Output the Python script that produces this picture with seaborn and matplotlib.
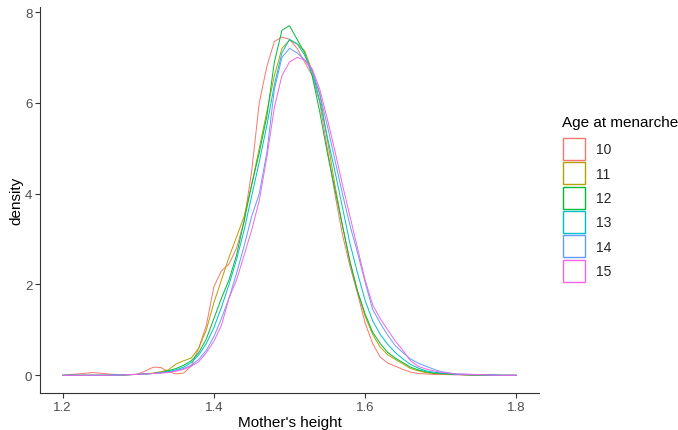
import numpy as np
import pandas as pd
import seaborn as sns
import matplotlib
matplotlib.use("Agg")
import matplotlib.pyplot as plt
from matplotlib.patches import Patch

# shared height grid (m)
heights = ([1.20, 1.22, 1.24, 1.26, 1.28, 1.30]
           + [round(1.31 + 0.01 * i, 2) for i in range(40)]
           + [1.72, 1.74, 1.76, 1.78, 1.80])

ages = ["10", "11", "12", "13", "14", "15"]

dens_10 = [0.0, 0.03, 0.06, 0.03, 0.0, 0.03,
           0.1, 0.18, 0.17, 0.08, 0.03, 0.05, 0.2, 0.6, 1.1, 1.95,
           2.3, 2.45, 2.8, 3.4, 4.5, 6.0, 6.8, 7.35, 7.45, 7.4,
           7.2, 6.9, 6.6, 6.0, 5.0, 4.0, 3.1, 2.4, 1.8, 1.15,
           0.7, 0.4, 0.27, 0.2, 0.13, 0.07, 0.04, 0.03, 0.02, 0.02,
           0.01, 0.0, 0.0, 0.0, 0.0]
dens_11 = [0.0, 0.0, 0.0, 0.0, 0.01, 0.02,
           0.03, 0.05, 0.08, 0.12, 0.25, 0.32, 0.38, 0.6, 1.0, 1.6,
           2.1, 2.6, 3.05, 3.5, 4.2, 5.0, 5.8, 6.6, 7.2, 7.38,
           7.3, 7.15, 6.7, 6.2, 5.2, 4.2, 3.3, 2.5, 1.85, 1.3,
           0.9, 0.62, 0.45, 0.35, 0.25, 0.15, 0.1, 0.06, 0.04, 0.03,
           0.02, 0.01, 0.0, 0.0, 0.0]
dens_12 = [0.0, 0.0, 0.0, 0.0, 0.01, 0.02,
           0.03, 0.04, 0.06, 0.1, 0.15, 0.22, 0.32, 0.5, 0.8, 1.25,
           1.7, 2.1, 2.65, 3.4, 4.2, 4.9, 5.7, 6.9, 7.6, 7.7,
           7.4, 7.1, 6.6, 5.8, 4.9, 4.1, 3.3, 2.5, 1.85, 1.35,
           0.95, 0.7, 0.5, 0.38, 0.28, 0.18, 0.12, 0.08, 0.05, 0.04,
           0.02, 0.01, 0.01, 0.0, 0.0]
dens_13 = [0.0, 0.0, 0.0, 0.0, 0.01, 0.02,
           0.03, 0.04, 0.06, 0.08, 0.12, 0.18, 0.28, 0.45, 0.7, 1.05,
           1.5, 2.0, 2.55, 3.2, 3.95, 4.7, 5.5, 6.4, 7.1, 7.4,
           7.3, 7.05, 6.7, 6.05, 5.25, 4.5, 3.7, 2.9, 2.25, 1.65,
           1.2, 0.9, 0.68, 0.5, 0.36, 0.24, 0.16, 0.1, 0.07, 0.05,
           0.02, 0.01, 0.01, 0.0, 0.0]
dens_14 = [0.0, 0.0, 0.0, 0.0, 0.01, 0.02,
           0.03, 0.04, 0.05, 0.07, 0.1, 0.15, 0.22, 0.35, 0.55, 0.85,
           1.25, 1.7, 2.25, 2.85, 3.5, 4.0, 4.9, 6.3, 7.0, 7.2,
           7.1, 6.95, 6.7, 6.2, 5.5, 4.75, 4.0, 3.3, 2.7, 2.05,
           1.45, 1.15, 0.88, 0.65, 0.5, 0.36, 0.27, 0.2, 0.14, 0.08,
           0.03, 0.02, 0.01, 0.0, 0.0]
dens_15 = [0.0, 0.0, 0.0, 0.0, 0.01, 0.02,
           0.03, 0.04, 0.05, 0.06, 0.09, 0.13, 0.2, 0.3, 0.5, 0.75,
           1.1, 1.7, 2.1, 2.65, 3.2, 3.85, 4.8, 5.9, 6.6, 6.9,
           7.0, 6.95, 6.75, 6.3, 5.65, 4.95, 4.2, 3.5, 2.8, 2.1,
           1.55, 1.25, 1.0, 0.75, 0.55, 0.32, 0.2, 0.14, 0.1, 0.07,
           0.03, 0.02, 0.01, 0.0, 0.0]

x_ticks = [1.2, 1.4, 1.6, 1.8]
y_ticks = [0, 2, 4, 6, 8]

colors = ["#F8766D", "#B79F00", "#00BA38", "#00BFC4", "#619CFF", "#F564E3"]

all_dens = [dens_10, dens_11, dens_12, dens_13, dens_14, dens_15]
df = pd.concat([pd.DataFrame({"height": heights, "density": d, "age": a})
                for a, d in zip(ages, all_dens)], ignore_index=True)

sns.set_theme(style="white")
plt.rcParams["font.family"] = ["Liberation Sans", "DejaVu Sans"]

fig = plt.figure(figsize=(6.78, 4.31), dpi=100)
ax = fig.add_axes([40 / 678, 37 / 431, (539 - 40) / 678, (394 - 7.6) / 431])

sns.lineplot(data=df, x="height", y="density", hue="age", hue_order=ages,
             palette=colors, linewidth=0.7, ax=ax, legend=False, sort=False,
             estimator=None)

ax.set_xlim(1.17, 1.83)
ax.set_ylim(-0.39, 8.12)
ax.set_xticks(x_ticks)
ax.set_xticklabels([str(t) for t in x_ticks])
ax.set_yticks(y_ticks)
ax.set_yticklabels([str(t) for t in y_ticks])

for s in ["top", "right"]:
    ax.spines[s].set_visible(False)
for s in ["left", "bottom"]:
    ax.spines[s].set_color("#333333")
    ax.spines[s].set_linewidth(0.8)

ax.tick_params(axis="both", which="both", direction="out", length=3.5,
               width=0.8, color="#333333", labelcolor="#4D4D4D",
               labelsize=9.5, pad=2, bottom=True, left=True)
ax.set_xlabel("Mother's height", fontsize=11, color="black", labelpad=2)
ax.set_ylabel("density", fontsize=11, color="black", labelpad=1.5)

fig.text(562 / 678, 1 - 123 / 431, "Age at menarche", fontsize=11,
         color="black", ha="left", va="center")
handles = [Patch(facecolor="white", edgecolor=c, linewidth=1.0) for c in colors]
fig.legend(handles, ages,
           loc="upper left", bbox_to_anchor=(563 / 678, 1 - 139 / 431),
           frameon=False, fontsize=10,
           handlelength=1.6, handleheight=2.06, labelspacing=0.17,
           handletextpad=0.75, borderaxespad=0, borderpad=0)

fig.savefig("out.png", dpi=100, facecolor="white")
